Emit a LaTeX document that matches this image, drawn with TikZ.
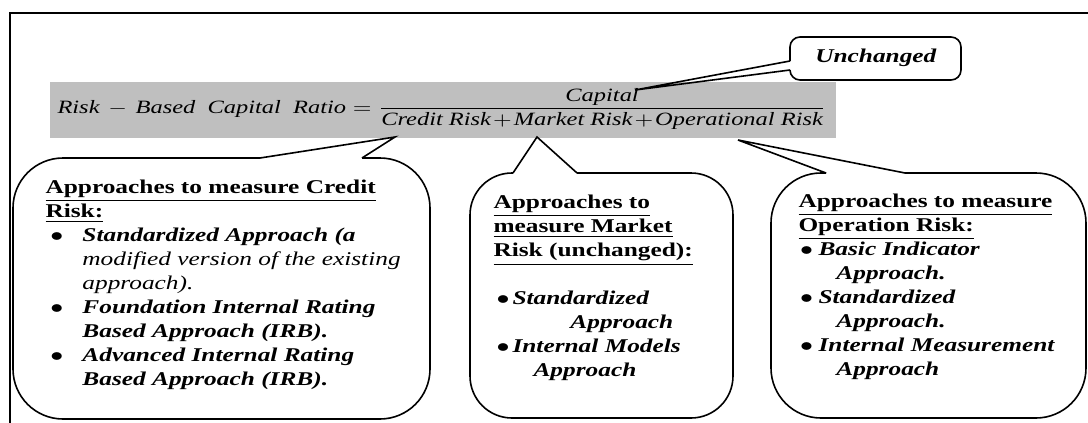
\documentclass[tikz,border=0pt]{standalone}
\usepackage{amsmath}
\usepackage{fontspec}
\setmainfont{Liberation Serif}
\newcommand{\hd}[1]{\underline{\textbf{#1}}}
\newcommand{\bi}[1]{\textbf{\textit{#1}}}
\newcommand{\bul}[2]{\hspace*{#1}\makebox[#2][l]{$\bullet$}}
\tikzset{
  txt/.style={xscale=1.3, inner sep=0pt, align=left, font=\fontsize{9.75}{12}\selectfont},
  bubble/.style={line width=0.8pt, rounded corners=25pt}
}

\begin{document}
\begin{tikzpicture}[x=0.5pt,y=-0.5pt]
  \useasboundingbox (0,0) rectangle (1088,423);
  \draw[line width=0.6pt] (10,423) |- (1088,13);
  \fill[gray!50] (50,82) rectangle (836,138);
  \coordinate (eq) at (57,113);
  \node[txt, font=\fontsize{9.4}{12}\selectfont, anchor=base west] (ratio) at (eq) {$\medmuskip=1.5mu \textit{Risk}\;-\;\textit{Based\ \ Capital\ \ Ratio} = \dfrac{\textit{Capital}}{\textit{Credit\ Risk} + \textit{Market\ Risk} + \textit{Operational\ Risk}}$};
  \coordinate (U) at (635,90);
  \coordinate (C) at (395,137);
  \coordinate (M) at (537,137);
  \coordinate (O) at (738,140);
  \coordinate (U1) at (790,61);
  \coordinate (U2) at (790,70);
  \coordinate (C1) at (260,158);
  \coordinate (C2) at (362,158);
  \coordinate (M1) at (513,173);
  \coordinate (M2) at (577,173);
  \coordinate (O1) at (826,173);
  \coordinate (O2) at (905,173);
  \draw[line width=0.8pt, rounded corners=5pt] (U1) -- (790,37) -- (961,37) -- (961,80) -- (790,80) -- (U2);
  \draw[line width=0.8pt] (U2) -- (U) -- (U1);
  \draw[bubble] (C2) -- (430,158) -- (430,419) -- (13,419) -- (13,158) -- (C1);
  \draw[line width=0.8pt] (C1) -- (C) -- (C2);
  \draw[bubble, rounded corners=21pt] (M2) -- (733,173) -- (733,418) -- (470,418) -- (470,173) -- (M1);
  \draw[line width=0.8pt] (M1) -- (M) -- (M2);
  \draw[bubble] (O2) -- (1086,173) -- (1086,418) -- (771,418) -- (771,173) -- (O1);
  \draw[line width=0.8pt] (O1) -- (O) -- (O2);
  \coordinate (unT) at (876,58);
  \node[txt] (unch) at (unT) {\bi{Unchanged}};
  \coordinate (crT) at (45,180);
  \node[txt, anchor=north west] (credit) at (crT) {\hd{Approaches to measure Credit}\\
    \hd{Risk:}\\
    \bul{1.9pt}{12.3pt}\bi{Standardized Approach (a}\\
    \hspace*{14.2pt}\textit{modified version of the existing}\\
    \hspace*{14.2pt}\textit{approach).}\\
    \bul{1.9pt}{12.3pt}\bi{Foundation Internal Rating}\\
    \hspace*{14.2pt}\bi{Based Approach (IRB).}\\
    \bul{1.9pt}{12.3pt}\bi{Advanced Internal Rating}\\
    \hspace*{14.2pt}\bi{Based Approach (IRB).}};
  \coordinate (mkT) at (493,195);
  \node[txt, anchor=north west] (market) at (mkT) {\hd{Approaches to}\\
    \hd{measure Market}\\
    \hd{Risk (unchanged):}\\[12pt]
    \bul{1.2pt}{6.1pt}\bi{Standardized}\\
    \hspace*{29.6pt}\bi{Approach}\\
    \bul{1.2pt}{6.1pt}\bi{Internal Models}\\
    \hspace*{15.4pt}\bi{Approach}};
  \coordinate (opT) at (798,194);
  \node[txt, anchor=north west] (operation) at (opT) {\hd{Approaches to measure}\\
    \hd{Operation Risk:}\\
    \bul{0.6pt}{7.1pt}\bi{Basic Indicator}\\
    \hspace*{14.6pt}\bi{Approach.}\\
    \bul{0.6pt}{7.1pt}\bi{Standardized}\\
    \hspace*{14.6pt}\bi{Approach.}\\
    \bul{0.6pt}{7.1pt}\bi{Internal Measurement}\\
    \hspace*{14.6pt}\bi{Approach}};
\end{tikzpicture}
\end{document}
